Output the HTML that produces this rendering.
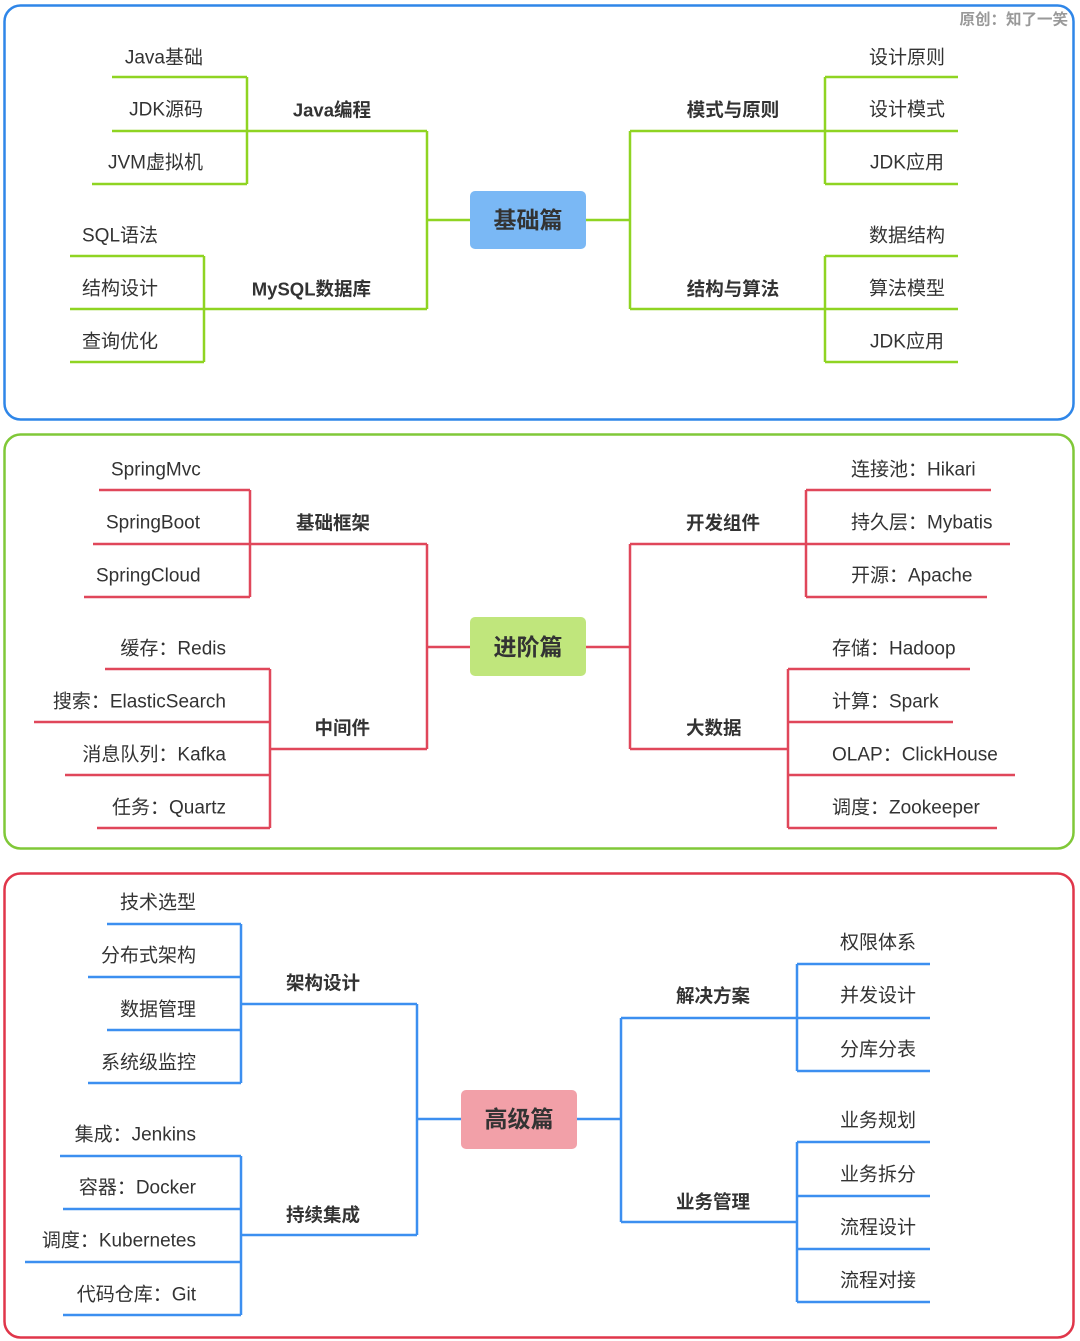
<!DOCTYPE html>
<html><head><meta charset="utf-8"><style>
html,body{margin:0;padding:0;background:#fff;}
svg{display:block;}
text{font-family:"Liberation Sans","Noto Sans CJK SC",sans-serif;font-size:19px;fill:#333;dominant-baseline:central;}
.b{font-weight:bold;font-size:18.5px;}
.c{font-size:23px;font-weight:bold;text-anchor:middle;}
.e{text-anchor:end;}
.m{text-anchor:middle;}
.g{stroke:#8fd422;stroke-width:2.5;fill:none;}
.r{stroke:#e0475a;stroke-width:2.5;fill:none;}
.u{stroke:#3c8ff0;stroke-width:2.5;fill:none;}
</style></head><body>
<svg width="1080" height="1341" viewBox="0 0 1080 1341" xmlns="http://www.w3.org/2000/svg">
<rect x="4.5" y="5.5" width="1069" height="414" rx="16" fill="none" stroke="#2f86e8" stroke-width="2.5"/>
<rect x="4.5" y="434.5" width="1069" height="414" rx="16" fill="none" stroke="#80c838" stroke-width="2.5"/>
<rect x="4.5" y="873.5" width="1069" height="464" rx="16" fill="none" stroke="#e0364a" stroke-width="2.5"/>
<text x="1068" y="20" class="e" style="font-size:15.5px;font-weight:bold;fill:#999">原创：知了一笑</text>

<path class="g" d="M427 220H470 M427 131V309 M248 131H427 M112 131H248 M247 77V184 M112 77H247 M92 184H247 M70 309H427 M204 256V362 M70 256H204 M70 362H204"/>
<path class="g" d="M586 220H630 M630 131V309 M630 131H958 M825 77V184 M825 77H958 M825 184H958 M630 309H958 M825 256V362 M825 256H958 M825 362H958"/>
<rect x="470" y="191" width="116" height="58" rx="5" fill="#7ab8f5"/>
<text x="528" y="220" class="c">基础篇</text>
<text x="203" y="58" class="e">Java基础</text>
<text x="203" y="110" class="e">JDK源码</text>
<text x="203" y="163" class="e">JVM虚拟机</text>
<text x="371" y="110" class="e b">Java编程</text>
<text x="82" y="236">SQL语法</text>
<text x="82" y="289">结构设计</text>
<text x="82" y="342">查询优化</text>
<text x="371" y="289" class="e b">MySQL数据库</text>
<text x="733" y="110" class="m b">模式与原则</text>
<text x="733" y="289" class="m b">结构与算法</text>
<text x="907" y="58" class="m">设计原则</text>
<text x="907" y="110" class="m">设计模式</text>
<text x="907" y="163" class="m">JDK应用</text>
<text x="907" y="236" class="m">数据结构</text>
<text x="907" y="289" class="m">算法模型</text>
<text x="907" y="342" class="m">JDK应用</text>

<path class="r" d="M427 647H470 M427 544V749 M93 544H427 M250 490V597 M99 490H250 M84 597H250 M270 749H427 M270 669V828 M105 669H270 M34 722H270 M65 775H270 M97 828H270"/>
<path class="r" d="M586 647H630 M630 544V749 M630 544H1010 M806 490V597 M806 490H991 M806 597H987 M630 749H788 M788 669V828 M788 669H970 M788 722H953 M788 775H1015 M788 828H997"/>
<rect x="470" y="617" width="116" height="59" rx="5" fill="#c0e67c"/>
<text x="528" y="647" class="c">进阶篇</text>
<text x="111" y="470">SpringMvc</text>
<text x="106" y="523">SpringBoot</text>
<text x="96" y="576">SpringCloud</text>
<text x="370" y="523" class="e b">基础框架</text>
<text x="226" y="649" class="e">缓存：Redis</text>
<text x="226" y="702" class="e">搜索：ElasticSearch</text>
<text x="226" y="755" class="e">消息队列：Kafka</text>
<text x="226" y="808" class="e">任务：Quartz</text>
<text x="370" y="728" class="e b">中间件</text>
<text x="686" y="523" class="b">开发组件</text>
<text x="686" y="728" class="b">大数据</text>
<text x="851" y="470">连接池：Hikari</text>
<text x="851" y="523">持久层：Mybatis</text>
<text x="851" y="576">开源：Apache</text>
<text x="832" y="649">存储：Hadoop</text>
<text x="832" y="702">计算：Spark</text>
<text x="832" y="755">OLAP：ClickHouse</text>
<text x="832" y="808">调度：Zookeeper</text>

<path class="u" d="M417 1119H461 M417 1004V1235 M241 1004H417 M241 924V1083 M107 924H241 M88 977H241 M107 1030H241 M88 1083H241 M241 1235H417 M241 1156V1315 M60 1156H241 M63 1209H241 M25 1262H241 M63 1315H241"/>
<path class="u" d="M577 1119H621 M621 1018V1222 M621 1018H930 M797 964V1071 M797 964H930 M797 1071H930 M621 1222H797 M797 1142V1302 M797 1142H930 M797 1196H930 M797 1249H930 M797 1302H930"/>
<rect x="461" y="1090" width="116" height="59" rx="5" fill="#f2a0a8"/>
<text x="519" y="1119" class="c">高级篇</text>
<text x="196" y="903" class="e">技术选型</text>
<text x="196" y="956" class="e">分布式架构</text>
<text x="196" y="1010" class="e">数据管理</text>
<text x="196" y="1063" class="e">系统级监控</text>
<text x="360" y="983" class="e b">架构设计</text>
<text x="196" y="1135" class="e">集成：Jenkins</text>
<text x="196" y="1188" class="e">容器：Docker</text>
<text x="196" y="1241" class="e">调度：Kubernetes</text>
<text x="196" y="1295" class="e">代码仓库：Git</text>
<text x="360" y="1215" class="e b">持续集成</text>
<text x="676" y="996" class="b">解决方案</text>
<text x="676" y="1202" class="b">业务管理</text>
<text x="878" y="943" class="m">权限体系</text>
<text x="878" y="996" class="m">并发设计</text>
<text x="878" y="1050" class="m">分库分表</text>
<text x="878" y="1121" class="m">业务规划</text>
<text x="878" y="1175" class="m">业务拆分</text>
<text x="878" y="1228" class="m">流程设计</text>
<text x="878" y="1281" class="m">流程对接</text>
</svg>
</body></html>
